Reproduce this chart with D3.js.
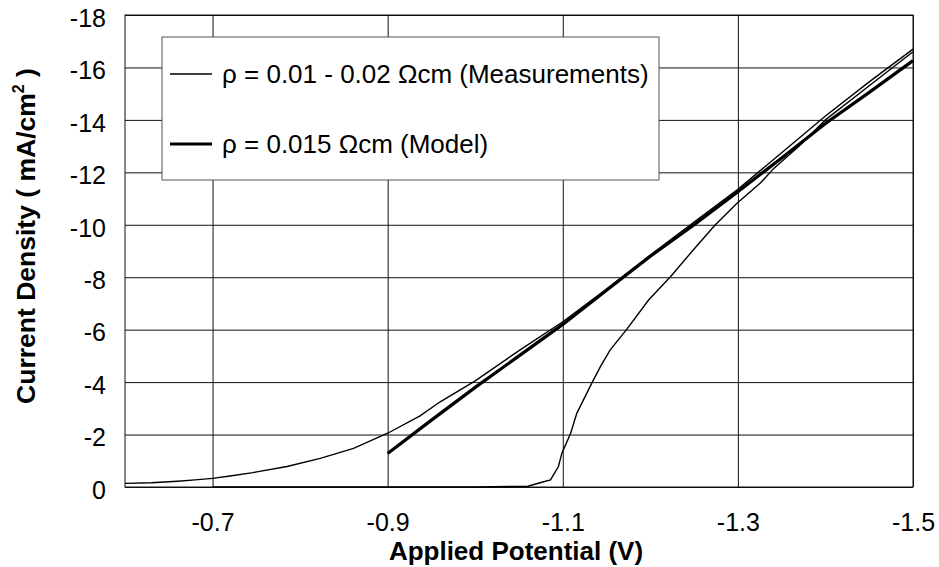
<!DOCTYPE html>
<html>
<head>
<meta charset="utf-8">
<script src="https://cdn.jsdelivr.net/npm/d3@7"></script>
<style>
  body { margin: 0; background: #fff; }
  svg { display: block; font-family: Arial, "Liberation Sans", sans-serif; }
</style>
</head>
<body>
<div id="chart"></div>
<script>
// Measurement 1 (gradual onset), potential in V and current density in mA/cm2
const measA_V = [-0.6, -0.63, -0.66, -0.68, -0.7, -0.72, -0.746, -0.785, -0.823, -0.861, -0.9, -0.937, -0.96, -1.0, -1.05, -1.1, -1.15, -1.2, -1.25, -1.3, -1.35, -1.4, -1.45, -1.5];
const measA_J = [-0.14, -0.16, -0.22, -0.27, -0.33, -0.42, -0.55, -0.78, -1.09, -1.47, -2.05, -2.71, -3.25, -4.05, -5.2, -6.3, -7.55, -8.85, -10.1, -11.35, -12.75, -14.15, -15.45, -16.7];

// Measurement 2 (sharp onset near -1.1 V)
const measB_V = [-0.7, -1.0, -1.06, -1.075, -1.086, -1.095, -1.099, -1.109, -1.116, -1.133, -1.143, -1.154, -1.173, -1.198, -1.223, -1.249, -1.274, -1.299, -1.326, -1.341, -1.37, -1.4, -1.45, -1.5];
const measB_J = [0, 0, -0.03, -0.17, -0.27, -0.78, -1.29, -2.05, -2.81, -3.95, -4.59, -5.22, -6.01, -7.13, -8.02, -9.04, -9.99, -10.82, -11.6, -12.15, -13.0, -14.0, -15.3, -16.6];

// Model, rho = 0.015 ohm cm
const model_V = [-0.9, -0.95, -1.0, -1.05, -1.1, -1.15, -1.2, -1.25, -1.3, -1.35, -1.4, -1.45, -1.5];
const model_J = [-1.28, -2.55, -3.8, -5.0, -6.2, -7.5, -8.8, -10.0, -11.26, -12.55, -13.86, -15.05, -16.26];

const xTicks = [-0.7, -0.9, -1.1, -1.3, -1.5];
const yTicks = [0, -2, -4, -6, -8, -10, -12, -14, -16, -18];

const legendLabels = ["ρ = 0.01 - 0.02 Ωcm (Measurements)", "ρ = 0.015 Ωcm (Model)"];

const W = 939, H = 567;
const margin = { top: 15, right: 26, bottom: 80, left: 125 };
const width = W - margin.left - margin.right;
const height = H - margin.top - margin.bottom;

const svg = d3.select("#chart").append("svg")
    .attr("width", W)
    .attr("height", H);

const g = svg.append("g")
    .attr("transform", `translate(${margin.left},${margin.top})`);

const x = d3.scaleLinear().domain([-0.6, -1.5]).range([0, width]);
const y = d3.scaleLinear().domain([0, -18]).range([height, 0]);

// plain hyphen instead of the unicode minus
const fmtX = d => d.toFixed(1);
const fmtY = d => String(d);

// grid + x labels
const xAxis = g.append("g")
    .attr("transform", `translate(0,${height})`)
    .call(d3.axisBottom(x).tickValues(xTicks).tickSize(-height).tickPadding(26)
        .tickFormat(fmtX));
xAxis.select(".domain").remove();
xAxis.selectAll("line").attr("stroke", "#111").attr("stroke-width", 1);
xAxis.selectAll("text").attr("font-size", 25).attr("fill", "#000");

const yAxis = g.append("g")
    .call(d3.axisLeft(y).tickValues(yTicks).tickSize(-width).tickPadding(19)
        .tickFormat(fmtY));
yAxis.select(".domain").remove();
yAxis.selectAll("line").attr("stroke", "#111").attr("stroke-width", 1);
yAxis.selectAll("text").attr("font-size", 25).attr("fill", "#000").attr("dy", "0.45em");

// frame
g.append("rect")
    .attr("x", 0).attr("y", 0)
    .attr("width", width).attr("height", height)
    .attr("fill", "none").attr("stroke", "#111").attr("stroke-width", 1);

const line = d3.line()
    .x(d => x(d[0]))
    .y(d => y(d[1]));

const zip = (a, b) => a.map((v, i) => [v, b[i]]);

g.append("path")
    .datum(zip(measA_V, measA_J))
    .attr("d", line)
    .attr("fill", "none").attr("stroke", "#000").attr("stroke-width", 1.4);

g.append("path")
    .datum(zip(measB_V, measB_J))
    .attr("d", line)
    .attr("fill", "none").attr("stroke", "#000").attr("stroke-width", 1.4);

g.append("path")
    .datum(zip(model_V, model_J))
    .attr("d", line)
    .attr("fill", "none").attr("stroke", "#000").attr("stroke-width", 3.2);

// legend
const legend = svg.append("g").attr("transform", "translate(162,37)");
legend.append("rect")
    .attr("width", 497).attr("height", 143)
    .attr("fill", "#fff").attr("stroke", "#555").attr("stroke-width", 1);

legendLabels.forEach((label, i) => {
    const ly = i === 0 ? 37 : 107;
    legend.append("line")
        .attr("x1", 8).attr("x2", 50)
        .attr("y1", ly).attr("y2", ly)
        .attr("stroke", "#000")
        .attr("stroke-width", i === 0 ? 1.4 : 3.2);
    legend.append("text")
        .attr("x", 60).attr("y", ly + 9)
        .attr("font-size", 26)
        .text(label);
});

// axis titles
svg.append("text")
    .attr("x", 516).attr("y", 560)
    .attr("text-anchor", "middle")
    .attr("font-size", 26).attr("font-weight", "bold")
    .text("Applied Potential (V)");

const yt = svg.append("text")
    .attr("transform", "translate(35,236) rotate(-90)")
    .attr("text-anchor", "middle")
    .attr("font-size", 26.5).attr("font-weight", "bold");
yt.append("tspan").text("Current Density ( mA/cm");
yt.append("tspan").attr("font-size", 16).attr("dy", -11).text("2");
yt.append("tspan").attr("dy", 11).text(" )");
</script>
</body>
</html>
